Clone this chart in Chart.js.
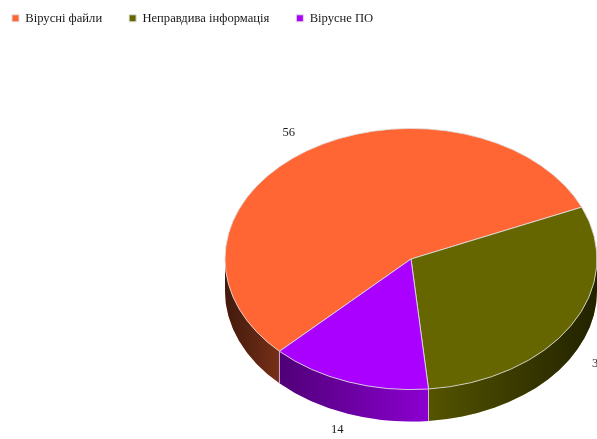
<!DOCTYPE html>
<html>
<head>
<meta charset="utf-8">
<title>Віруси</title>
<script src="https://cdn.jsdelivr.net/npm/chart.js@4"></script>
<style>
    html, body { margin: 0; padding: 0; background: #fff; overflow: hidden; width: 597px; height: 439px; }
    #wrap { position: absolute; left: 0; top: 0; width: 598px; height: 450px; }
</style>
</head>
<body>
<div id="wrap"><canvas id="grafico"></canvas></div>
<script>
const categorias = ['Вірусні файли', 'Неправдива інформація', 'Вірусне ПО'];
const valores = [56, 30, 14];
const cores = ['#ff6633', '#666600', '#aa00ff'];

// perspective of the disc
const achatamento = 0.702;
const espessura = 32;
const fonte = '"Liberation Serif", serif';

// darkening of the side wall, left to right across the disc
const sombra = [[0, 0.75], [0.15, 0.53], [0.55, 0.18], [1, 0.67]];

function paredeLateral(ctx, arc, cor) {
    const { x, y, outerRadius: r, startAngle, endAngle } = arc;
    const ry = r * achatamento;
    const grad = ctx.createLinearGradient(x - r, 0, x + r, 0);
    sombra.forEach(s => grad.addColorStop(s[0], `rgba(0,0,0,${s[1]})`));

    // only the part of the slice facing the viewer has a wall
    for (let k = 0; k < 2; k++) {
        const ini = Math.max(startAngle, k * 2 * Math.PI);
        const fim = Math.min(endAngle, k * 2 * Math.PI + Math.PI);
        if (fim <= ini) continue;
        ctx.beginPath();
        ctx.ellipse(x, y, r, ry, 0, ini, fim);
        ctx.ellipse(x, y + espessura, r, ry, 0, fim, ini, true);
        ctx.closePath();
        ctx.fillStyle = cor;
        ctx.fill();
        ctx.fillStyle = grad;
        ctx.fill();

        // seam between neighbouring walls
        [ini, fim].forEach(a => {
            if (Math.abs(Math.sin(a)) < 0.01) return;
            const px = x + r * Math.cos(a);
            const py = y + ry * Math.sin(a);
            ctx.beginPath();
            ctx.moveTo(px, py);
            ctx.lineTo(px, py + espessura);
            ctx.strokeStyle = 'rgba(225,225,225,0.7)';
            ctx.lineWidth = 1;
            ctx.stroke();
        });
    }
}

const pizza3d = {
    id: 'pizza3d',
    afterLayout(chart) {
        // legend spans the whole width, the disc only takes the lower right
        const area = chart.chartArea;
        area.left = 224;
        area.width = area.right - area.left;
        area.top = 72.5;
        area.bottom = 445.5;
        area.height = area.bottom - area.top;
        chart.legend.left = -15;
        chart.legend.top = -15;
    },
    beforeDatasetsDraw(chart) {
        const ctx = chart.ctx;
        const arcs = chart.getDatasetMeta(0).data;
        arcs.forEach((arc, i) => paredeLateral(ctx, arc, cores[i]));
        ctx.save();
        ctx.translate(arcs[0].x, arcs[0].y);
        ctx.scale(1, achatamento);
        ctx.translate(-arcs[0].x, -arcs[0].y);
    },
    afterDatasetsDraw(chart) {
        const ctx = chart.ctx;
        ctx.restore();

        // value labels outside the rim
        ctx.save();
        ctx.font = '12.6px ' + fonte;
        ctx.fillStyle = '#1a1a1a';
        ctx.textAlign = 'center';
        ctx.textBaseline = 'middle';
        chart.getDatasetMeta(0).data.forEach((arc, i) => {
            const meio = (arc.startAngle + arc.endAngle) / 2;
            const raio = arc.outerRadius * 1.17;
            const seno = Math.sin(meio);
            const x = arc.x + raio * Math.cos(meio);
            const y = arc.y + raio * achatamento * seno + (seno > 0 ? espessura * 0.85 : 0);
            ctx.fillText(valores[i], x, y);
        });
        ctx.restore();
    }
};

new Chart(document.getElementById('grafico'), {
    type: 'pie',
    data: {
        labels: categorias,
        datasets: [{
            data: valores,
            backgroundColor: cores,
            borderColor: '#dddddd',
            borderWidth: 1,
            hoverOffset: 0
        }]
    },
    options: {
        responsive: true,
        maintainAspectRatio: false,
        animation: false,
        events: [],
        rotation: 225,
        plugins: {
            legend: {
                position: 'top',
                align: 'start',
                labels: {
                    boxWidth: 7,
                    boxHeight: 7,
                    padding: 27,
                    color: '#1a1a1a',
                    font: { family: fonte, size: 12.6 }
                }
            },
            tooltip: { enabled: false }
        }
    },
    plugins: [pizza3d]
});
</script>
</body>
</html>
